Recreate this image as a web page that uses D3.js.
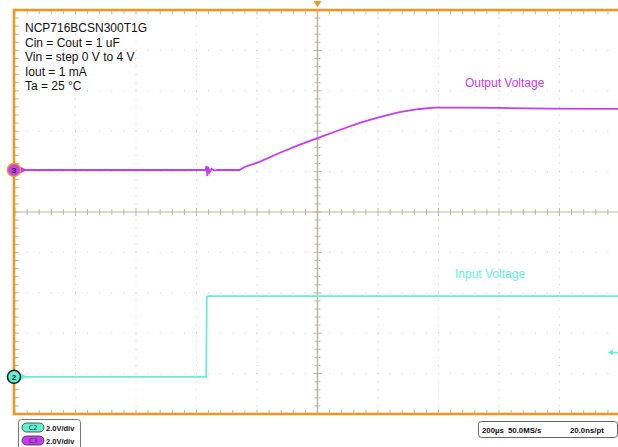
<!DOCTYPE html>
<html>
<head>
<meta charset="utf-8">
<script src="https://cdn.jsdelivr.net/npm/d3@7"></script>
<style>
  body { margin: 0; background: #fff; }
  svg { display: block; font-family: "Liberation Sans", Arial, sans-serif; }
</style>
</head>
<body>
<svg id="scope" width="618" height="447"></svg>
<script>
// Scope capture: NCP716 start-up, 200 us/div, 2 V/div
const timeOut = [-1000, -370, -367, -364, -361, -357, -350, -341, -330, -258, -241, -192, -126, -60, 0, 73, 139, 205, 271, 337, 387, 469, 602, 767, 1000];
const voltsOut = [0, 0, 0.2, -0.3, 0.15, -0.12, 0.06, -0.03, 0, 0, 0.15, 0.40, 0.84, 1.24, 1.58, 1.98, 2.33, 2.62, 2.87, 3.02, 3.09, 3.09, 3.07, 3.04, 3.02];
const timeIn = [-1000, -368, -366, -362, -200, 0, 300, 600, 1000];
const voltsIn = [0, 0, 3.95, 4.0, 4.0, 4.0, 4.0, 4.0, 4.0];

const noteLines = ["NCP716BCSN300T1G", "Cin = Cout = 1 uF", "Vin = step 0 V to 4 V", "Iout = 1 mA", "Ta = 25 \u00b0C"];
const chanLabels = ["C2", "C3"];
const chanScales = ["2.0V/div", "2.0V/div"];
const timebase = ["200\u00b5s", "50.0MS/s", "20.0ns/pt"];

const svg = d3.select('#scope');
const pLeft = 15, pRight = 620, pTop = 10, pBottom = 414;
const x = d3.scaleLinear().domain([-1000, 1000]).range([pLeft, pRight]);
const yDiv = d3.scaleLinear().domain([-5, 5]).range([pBottom, pTop]);
const voltsPerDiv = 2;
const outOffset = 1.04;   // ch3 ground position in divisions
const inOffset = -4.08;   // ch2 ground position in divisions
const purple = '#c63cf2', mint = '#62f2d2', orange = '#f7941d';
const gridCol = '#b9b99c';

const g = svg.append('g');

// dotted major grid lines
const majorX = d3.range(-800, 1001, 200);
const majorY = d3.range(-4, 5, 1);
const minorT = d3.range(-1000, 1001, 40);
const minorD = d3.range(-5, 5.01, 0.2);
majorX.filter(t => t !== 0).forEach(t => {
  g.selectAll(null).data(minorD).enter().append('rect')
    .attr('x', x(t) - 0.5).attr('y', d => yDiv(d) - 0.5)
    .attr('width', 1).attr('height', 1).attr('fill', '#c8c8c8');
});
majorY.filter(d => d !== 0).forEach(dv => {
  g.selectAll(null).data(minorT).enter().append('rect')
    .attr('x', d => x(d) - 0.5).attr('y', yDiv(dv) - 0.5)
    .attr('width', 1).attr('height', 1).attr('fill', '#c8c8c8');
});

// center crosshair with ticks
g.append('line').attr('x1', pLeft).attr('x2', pRight).attr('y1', yDiv(0)).attr('y2', yDiv(0))
  .attr('stroke', gridCol).attr('stroke-width', 1.2);
g.append('line').attr('x1', x(0)).attr('x2', x(0)).attr('y1', pTop).attr('y2', pBottom)
  .attr('stroke', gridCol).attr('stroke-width', 1.5);
g.selectAll('.tx').data(minorT).enter().append('line')
  .attr('x1', d => x(d)).attr('x2', d => x(d))
  .attr('y1', d => yDiv(0) - (d % 200 === 0 ? 4 : 3)).attr('y2', d => yDiv(0) + (d % 200 === 0 ? 4 : 3))
  .attr('stroke', gridCol).attr('stroke-width', 1);
g.selectAll('.ty').data(minorD).enter().append('line')
  .attr('y1', d => yDiv(d)).attr('y2', d => yDiv(d))
  .attr('x1', d => x(0) - (Math.abs(d - Math.round(d)) < 0.01 ? 4 : 3))
  .attr('x2', d => x(0) + (Math.abs(d - Math.round(d)) < 0.01 ? 4 : 3))
  .attr('stroke', gridCol).attr('stroke-width', 1);

// edge ticks
g.selectAll('.tt').data(minorT).enter().append('line')
  .attr('x1', d => x(d)).attr('x2', d => x(d)).attr('y1', pTop).attr('y2', pTop + 4)
  .attr('stroke', gridCol).attr('stroke-width', 1);
g.selectAll('.tb').data(minorT).enter().append('line')
  .attr('x1', d => x(d)).attr('x2', d => x(d)).attr('y1', pBottom).attr('y2', pBottom - 4)
  .attr('stroke', gridCol).attr('stroke-width', 1);
g.selectAll('.tl').data(minorD).enter().append('line')
  .attr('y1', d => yDiv(d)).attr('y2', d => yDiv(d)).attr('x1', pLeft).attr('x2', pLeft + 4)
  .attr('stroke', gridCol).attr('stroke-width', 1);

// frame
g.append('path')
  .attr('d', `M${pRight},${pTop}H${pLeft - 1}V${pBottom}H${pRight}`)
  .attr('fill', 'none').attr('stroke', orange).attr('stroke-width', 2.5);

// traces
const lineOut = d3.line().x((d, i) => x(timeOut[i])).y((d, i) => yDiv(outOffset + voltsOut[i] / voltsPerDiv));
const lineIn = d3.line().x((d, i) => x(timeIn[i])).y((d, i) => yDiv(inOffset + voltsIn[i] / voltsPerDiv));
g.append('path').datum(voltsIn).attr('d', lineIn)
  .attr('fill', 'none').attr('stroke', mint).attr('stroke-width', 1.8);
g.append('path').datum(voltsOut).attr('d', lineOut)
  .attr('fill', 'none').attr('stroke', purple).attr('stroke-width', 1.8);

// trace labels
g.append('text').attr('x', 465).attr('y', 87).attr('fill', purple)
  .style('font-size', '12px').text('Output Voltage');
g.append('text').attr('x', 455).attr('y', 278).attr('fill', mint)
  .style('font-size', '12px').text('Input Voltage');

// channel markers
function marker(cy, fill, ring, label) {
  g.append('path').attr('d', `M${pLeft + 4},${cy - 4}L${pLeft + 12},${cy}L${pLeft + 4},${cy + 4}Z`).attr('fill', fill);
  g.append('circle').attr('cx', pLeft - 1).attr('cy', cy).attr('r', 6.5)
    .attr('fill', fill).attr('stroke', ring).attr('stroke-width', 1.5);
  g.append('text').attr('x', pLeft - 1).attr('y', cy + 3).attr('text-anchor', 'middle')
    .style('font-size', '8px').style('font-weight', 'bold').attr('fill', '#222').text(label);
}
marker(yDiv(outOffset), purple, orange, '3');
marker(yDiv(inOffset), mint, '#1a1a1a', '2');

// trigger markers
g.append('path').attr('d', `M${x(0) - 4},1L${x(0) + 4},1L${x(0)},7Z`).attr('fill', orange);
const trigY = yDiv(inOffset + 1.2 / voltsPerDiv);
g.append('path').attr('d', `M${pRight - 12},${trigY}L${pRight - 7},${trigY - 3}L${pRight - 7},${trigY + 3}Z`).attr('fill', mint);
g.append('line').attr('x1', pRight - 8).attr('x2', pRight - 2).attr('y1', trigY).attr('y2', trigY)
  .attr('stroke', mint).attr('stroke-width', 1.5);

// setup note
g.selectAll('.note').data(noteLines).enter().append('text')
  .attr('x', 25).attr('y', (d, i) => 32 + i * 14.5)
  .style('font-size', '12px').attr('fill', '#111').text(d => d);

// channel scale box
g.append('rect').attr('x', 18.5).attr('y', 419.5).attr('width', 62).attr('height', 32).attr('rx', 3)
  .attr('fill', '#fff').attr('stroke', '#777');
const pillCols = [mint, purple];
chanLabels.forEach((c, i) => {
  const py = 423 + i * 13;
  g.append('rect').attr('x', 22).attr('y', py).attr('width', 22).attr('height', 9).attr('rx', 4.5)
    .attr('fill', pillCols[i]).attr('stroke', '#333').attr('stroke-width', 0.8);
  g.append('text').attr('x', 33).attr('y', py + 6.8).attr('text-anchor', 'middle')
    .style('font-size', '6.5px').style('font-family', '"DejaVu Sans", sans-serif').attr('fill', '#333').text(c);
  g.append('text').attr('x', 46).attr('y', py + 8)
    .style('font-size', '7.5px').style('font-weight', 'bold').attr('fill', '#111').text(chanScales[i]);
});

// timebase box
g.append('rect').attr('x', 478.5).attr('y', 421.5).attr('width', 139).attr('height', 16).attr('rx', 3)
  .attr('fill', '#fff').attr('stroke', '#666');
const tbX = [482, 508, 570];
timebase.forEach((t, i) => {
  g.append('text').attr('x', tbX[i]).attr('y', 432.5)
    .style('font-size', '7.8px').style('font-weight', 'bold').attr('fill', '#111').text(t);
});
</script>
</body>
</html>
